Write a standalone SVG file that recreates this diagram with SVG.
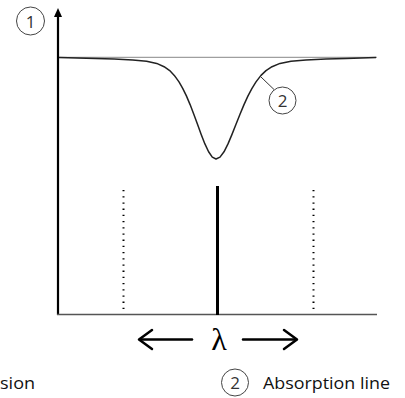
<svg xmlns="http://www.w3.org/2000/svg" width="405" height="398" viewBox="0 0 405 398">
<style>
.num{font-family:"Open Sans","Liberation Sans",sans-serif;font-size:17px;fill:#333;text-anchor:middle}
.lbl{font-family:"Open Sans","Liberation Sans",sans-serif;font-size:17px;fill:#111}
.circ{fill:none;stroke:#444;stroke-width:1}
.arr{fill:none;stroke:#000;stroke-width:2.5;stroke-linecap:round;stroke-linejoin:round}
</style>
<rect width="405" height="398" fill="#fff"/>
<g id="axes">
<line x1="58" y1="315" x2="58" y2="14" stroke="#000" stroke-width="2.2"/>
<polygon points="58,8 54,17 62,17" fill="#000"/>
<line x1="57" y1="314.5" x2="377" y2="314.5" stroke="#555" stroke-width="1.4"/>
<line x1="59" y1="57.3" x2="377" y2="57.3" stroke="#888" stroke-width="1"/>
</g>
<g id="curve">
<path d="M59,57.6 L95.6,58.6 L114.1,59 L132.7,59.9 L146.6,61.2 L156.7,63.4 L164.1,66.7 L169.7,70.6 L174.3,75.4 L179,81.9 L182.7,88.3 L186.4,95.9 L190.1,104.6 L193.8,114.2 L197.5,124.3 L201.2,134.4 L204.9,143.9 L208.6,151.8 L212.3,157.1 L216,159 L220,157.1 L224,151.8 L228,143.9 L232,134.4 L236,124.3 L240,114.2 L244,104.6 L248,95.9 L252,88.3 L256,81.9 L261,75.4 L266,70.6 L272,66.7 L280,63.4 L291,61.2 L306,59.9 L326,59 L346,58.6 L376,57.5" fill="none" stroke="#222" stroke-width="1.5" stroke-linejoin="round"/>
</g>
<g id="lines">
<line x1="217.5" y1="186" x2="217.5" y2="315" stroke="#000" stroke-width="3"/>
<line x1="123.5" y1="190" x2="123.5" y2="314" stroke="#000" stroke-width="2" stroke-dasharray="1.3 4.9"/>
<line x1="313.5" y1="190" x2="313.5" y2="314" stroke="#000" stroke-width="2" stroke-dasharray="1.3 4.9"/>
</g>
<g id="connectors">
<line x1="261" y1="77" x2="274" y2="89.5" stroke="#333" stroke-width="1"/>
</g>
<g id="label1">
<circle class="circ" cx="30.5" cy="21" r="14"/>
<text class="num" x="30.5" y="27.5">1</text>
</g>
<g id="label2">
<circle class="circ" cx="282.5" cy="100.5" r="13.5"/>
<text class="num" x="282.5" y="107">2</text>
</g>
<g id="lambda">
<polyline class="arr" points="152,330 139,339.5 152,349"/>
<line class="arr" x1="140" y1="339.5" x2="192" y2="339.5"/>
<text x="219" y="350" font-family="Liberation Serif,serif" font-size="32" text-anchor="middle" fill="#000">λ</text>
<line class="arr" x1="243" y1="339.5" x2="296" y2="339.5"/>
<polyline class="arr" points="284,330 297,339.5 284,349"/>
</g>
<g id="legend">
<text class="lbl" x="0" y="389" textLength="35" lengthAdjust="spacingAndGlyphs">sion</text>
<circle class="circ" cx="235" cy="382.5" r="13.5"/>
<text class="num" x="235" y="389">2</text>
<text class="lbl" x="263" y="389" textLength="127" lengthAdjust="spacingAndGlyphs">Absorption line</text>
</g>
</svg>
